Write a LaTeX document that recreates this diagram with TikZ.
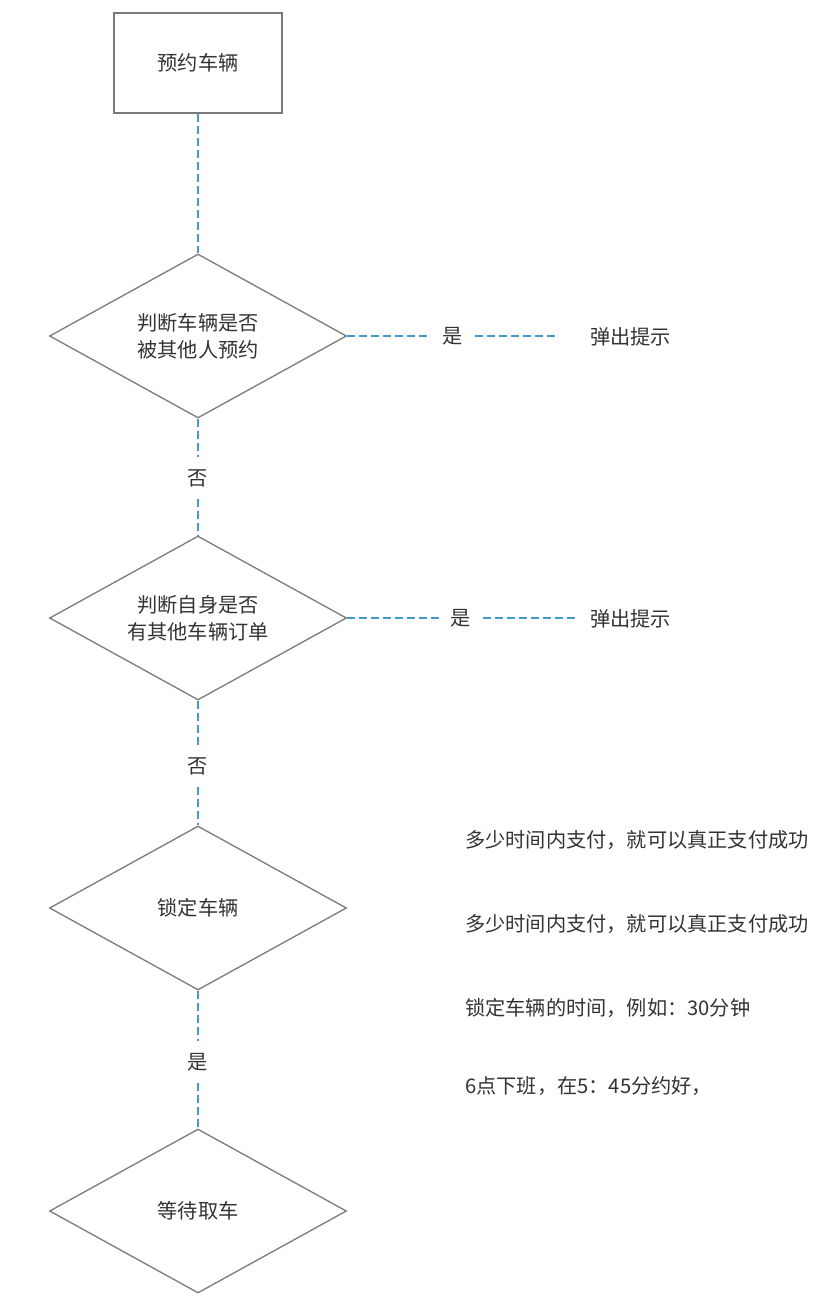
\documentclass[tikz,border=0pt]{standalone}
\usepackage{fontspec}
\setmainfont{Noto Sans CJK SC}
\usetikzlibrary{shapes.geometric, positioning}
\definecolor{flowblue}{RGB}{66,153,204}
\definecolor{edgegray}{RGB}{122,122,122}
\definecolor{inkgray}{RGB}{51,51,51}

\begin{document}
\begin{tikzpicture}[
          x=1pt, y=-1pt,
          every node/.style={font=\fontsize{20.2}{27}\selectfont, text=inkgray},
          boxnode/.style={draw=edgegray, line width=1.3pt, minimum width=168pt,
                          minimum height=100pt, align=center},
          check/.style={diamond, draw=edgegray, line width=1.3pt, aspect=1.81,
                        minimum width=297pt, minimum height=164pt, inner sep=0pt, align=center},
          flow/.style={draw=flowblue, line width=2.8pt, dash pattern=on 8pt off 4pt},
          tag/.style={inner sep=12pt},
          note/.style={anchor=west, inner sep=0pt},
        ]
        \useasboundingbox (0,0) rectangle (826,1300);

        \node[boxnode] (book) at (198,63) {预约车辆};
        \node[check] (d1) at (198,336) {判断车辆是否\\被其他人预约};
        \node[check] (d2) at (198,618) {判断自身是否\\有其他车辆订单};
        \node[check] (d3) at (198,908) {锁定车辆};
        \node[check] (d4) at (198,1211) {等待取车};

        \node[tag] (no1) at (198,478) {否};
        \node[tag] (no2) at (198,766) {否};
        \node[tag] (yes3) at (198,1062) {是};

        \node[tag] (yes1) at (453,336) {是};
        \node[tag] (yes2) at (461,618) {是};
        \node[note] (tip1) at (590,337) {弹出提示};
        \node[note] (tip2) at (590,619) {弹出提示};
        \coordinate (end1) at (558,336);
        \coordinate (end2) at (576,618);

        \node[note] (memo1) at (465,840) {多少时间内支付，就可以真正支付成功};
        \node[note] (memo2) at (465,924) {多少时间内支付，就可以真正支付成功};
        \node[note] (memo3) at (465,1008) {锁定车辆的时间，例如：30分钟};
        \node[note] (memo4) at (465,1086) {6点下班，在5：45分约好，};

        % main flow
        \draw[flow] (book) -- (d1);
        \draw[flow] (d1) -- (no1) -- (d2);
        \draw[flow] (d2) -- (no2) -- (d3);
        \draw[flow] (d3) -- (yes3) -- (d4);

        % side branches
        \draw[flow] (d1.east) -- (yes1) -- (end1);
        \draw[flow] (d2.east) -- (yes2) -- (end2);
      \end{tikzpicture}
\end{document}
